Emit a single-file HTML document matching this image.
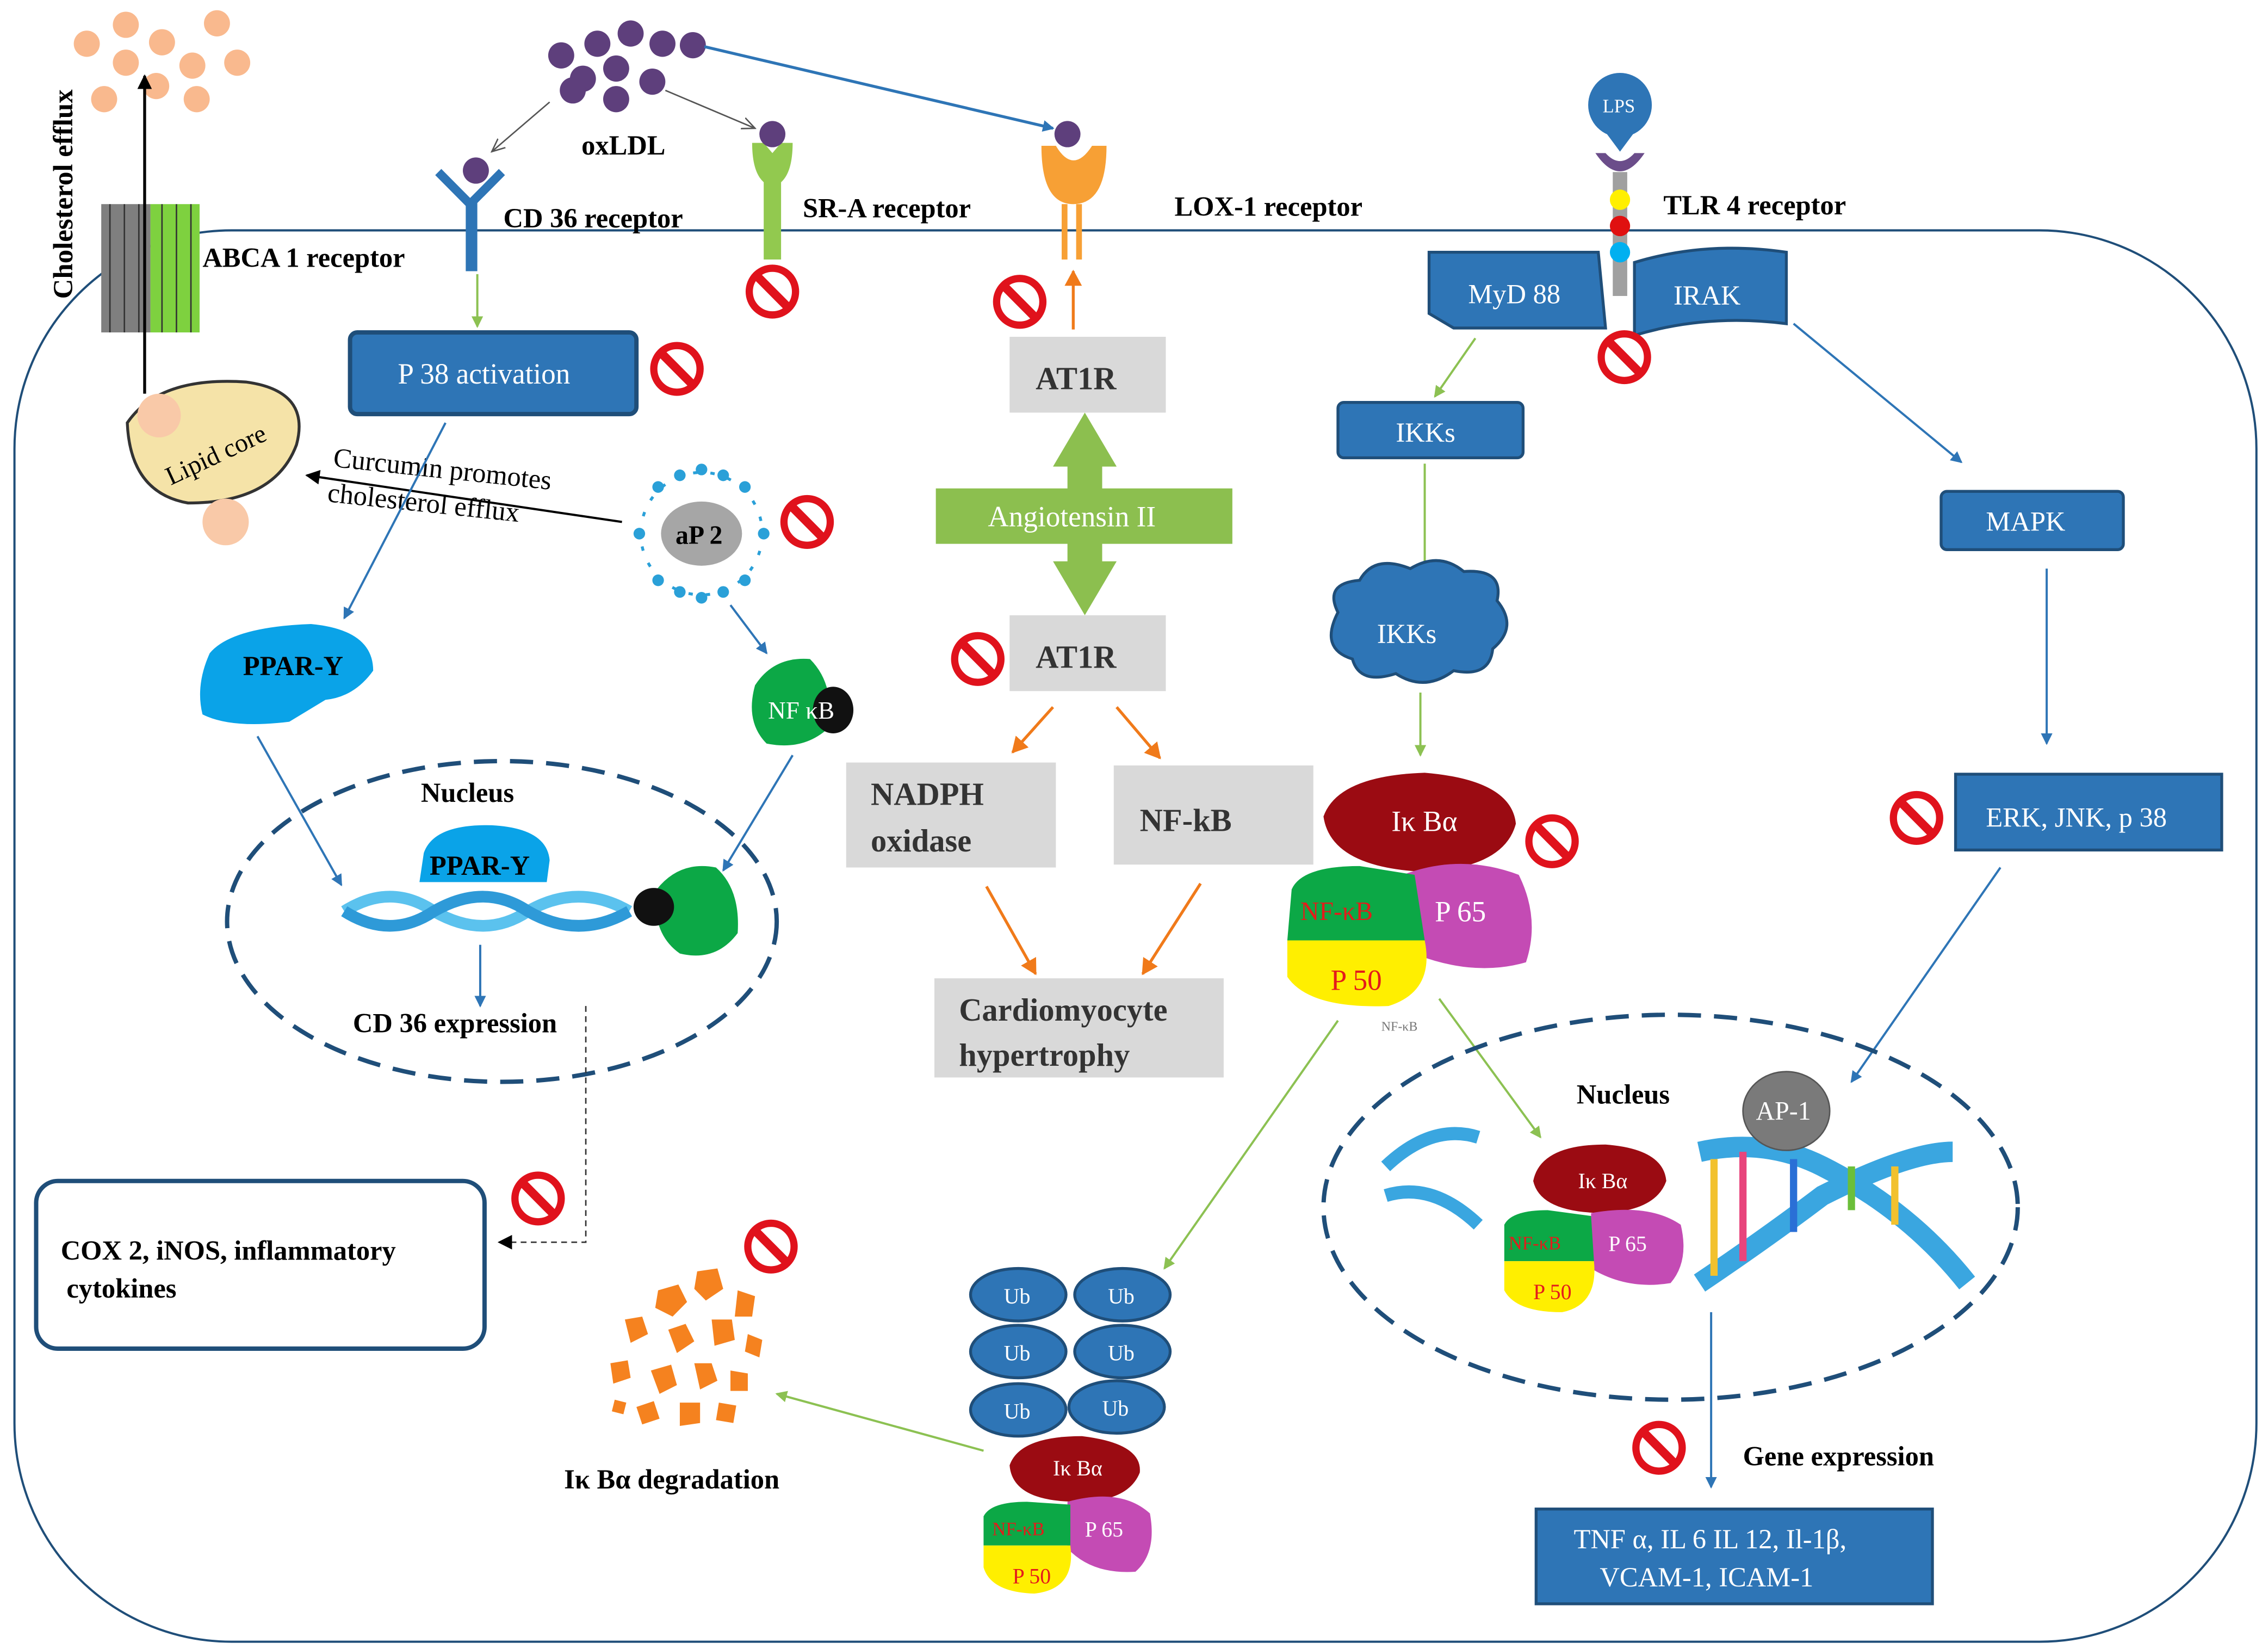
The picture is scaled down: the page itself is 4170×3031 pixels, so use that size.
<!DOCTYPE html>
<html><head><meta charset="utf-8"><style>
html,body{margin:0;padding:0;background:#fff;}
svg{display:block;}
text{font-family:"Liberation Serif",serif;}
</style></head><body>
<svg width="4170" height="3031" viewBox="0 0 1568 1131" preserveAspectRatio="none" xmlns="http://www.w3.org/2000/svg">
<defs>
<marker id="ab" markerWidth="8" markerHeight="8" refX="7" refY="4" orient="auto" markerUnits="userSpaceOnUse"><path d="M0,0 L8,4 L0,8z" fill="#2e75b6"/></marker>
<marker id="ag" markerWidth="8" markerHeight="8" refX="7" refY="4" orient="auto" markerUnits="userSpaceOnUse"><path d="M0,0 L8,4 L0,8z" fill="#8cc152"/></marker>
<marker id="ao" markerWidth="12" markerHeight="12" refX="10" refY="6" orient="auto" markerUnits="userSpaceOnUse"><path d="M0,0 L11,6 L0,12z" fill="#f07a1a"/></marker>
<marker id="ak" markerWidth="10" markerHeight="10" refX="9" refY="5" orient="auto" markerUnits="userSpaceOnUse"><path d="M0,0 L10,5 L0,10z" fill="#000"/></marker>
<marker id="ag2" markerWidth="10" markerHeight="10" refX="9" refY="5" orient="auto" markerUnits="userSpaceOnUse"><path d="M0,1 L9,5 L0,9" fill="none" stroke="#555"/></marker>
<g id="no"><circle r="16" fill="#fff" stroke="#e0121c" stroke-width="5"/><line x1="-11" y1="-11" x2="11" y2="11" stroke="#e0121c" stroke-width="6"/></g>
</defs>
<rect width="1568" height="1131" fill="#fff"/>
<rect x="10" y="158" width="1550" height="968" rx="150" fill="none" stroke="#1f4e79" stroke-width="1.5"/>
<g fill="#f9b98e">
<circle cx="60" cy="30" r="9"/><circle cx="87" cy="17" r="9"/><circle cx="112" cy="29" r="9"/><circle cx="150" cy="16" r="9"/><circle cx="87" cy="43" r="9"/><circle cx="133" cy="45" r="9"/><circle cx="164" cy="43" r="9"/><circle cx="72" cy="68" r="9"/><circle cx="108" cy="59" r="9"/><circle cx="136" cy="68" r="9"/>
</g>
<g fill="#5e3f7c">
<circle cx="388" cy="38" r="9"/><circle cx="413" cy="30" r="9"/><circle cx="436" cy="23" r="9"/><circle cx="458" cy="30" r="9"/><circle cx="479" cy="31" r="9"/><circle cx="403" cy="54" r="9"/><circle cx="426" cy="47" r="9"/><circle cx="451" cy="56" r="9"/><circle cx="396" cy="62" r="9"/><circle cx="426" cy="68" r="9"/>
</g>
<text x="402" y="106" font-size="19" font-weight="bold">oxLDL</text>
<line x1="380" y1="70" x2="340" y2="104" stroke="#555" marker-end="url(#ag2)"/>
<line x1="460" y1="62" x2="522" y2="88" stroke="#555" marker-end="url(#ag2)"/>
<line x1="487" y1="32" x2="728" y2="88" stroke="#2e75b6" stroke-width="2" marker-end="url(#ab)"/>
<rect x="70" y="140" width="34" height="88" fill="#7f7f7f"/>
<rect x="104" y="140" width="34" height="88" fill="#7ed13f"/>
<g stroke="#333" stroke-width="1"><line x1="76" y1="140" x2="76" y2="228"/><line x1="86" y1="140" x2="86" y2="228"/><line x1="96" y1="140" x2="96" y2="228"/><line x1="112" y1="140" x2="112" y2="228"/><line x1="122" y1="140" x2="122" y2="228"/><line x1="132" y1="140" x2="132" y2="228"/></g>
<text x="140" y="183" font-size="19" font-weight="bold">ABCA 1 receptor</text>
<text transform="translate(50,205) rotate(-90)" font-size="19" font-weight="bold">Cholesterol efflux</text>
<line x1="100" y1="270" x2="100" y2="52" stroke="#000" stroke-width="2" marker-end="url(#ak)"/>
<path d="M88,290 Q110,258 170,262 Q215,268 205,305 Q190,345 130,345 Q90,338 88,290z" fill="#f5e3a8" stroke="#333" stroke-width="2"/>
<circle cx="110" cy="285" r="15" fill="#f9c9a8"/><circle cx="156" cy="358" r="16" fill="#f9c9a8"/>
<text transform="translate(118,333) rotate(-25)" font-size="18">Lipid core</text>
<text transform="translate(230,320) rotate(6)" font-size="19">Curcumin promotes</text>
<text transform="translate(226,344) rotate(6)" font-size="19">cholesterol efflux</text>
<line x1="430" y1="358" x2="212" y2="326" stroke="#000" stroke-width="1.5" marker-end="url(#ak)"/>
<path d="M303,118 L325,140 L347,118" fill="none" stroke="#2e75b6" stroke-width="6"/>
<rect x="322" y="138" width="8" height="48" fill="#2e75b6"/>
<circle cx="329" cy="117" r="9" fill="#5e3f7c"/>
<text x="348" y="156" font-size="19" font-weight="bold">CD 36 receptor</text>
<line x1="330" y1="188" x2="330" y2="224" stroke="#8cc152" stroke-width="1.5" marker-end="url(#ag)"/>
<path d="M520,98 Q520,118 528,125 L528,178 L540,178 L540,125 Q548,118 548,98 L540,98 L534,105 L528,98z" fill="#92c94f"/>
<circle cx="534" cy="92" r="9" fill="#5e3f7c"/>
<text x="555" y="149" font-size="19" font-weight="bold">SR-A receptor</text>
<path d="M720,100 Q720,140 742,140 Q765,140 765,100 L755,100 Q742,120 730,100z" fill="#f7a035"/>
<rect x="734" y="140" width="4" height="38" fill="#f7a035"/><rect x="744" y="140" width="4" height="38" fill="#f7a035"/>
<circle cx="738" cy="92" r="9" fill="#5e3f7c"/>
<text x="812" y="148" font-size="19" font-weight="bold">LOX-1 receptor</text>
<line x1="742" y1="226" x2="742" y2="186" stroke="#f07a1a" stroke-width="2" marker-end="url(#ao)"/>
<circle cx="1120" cy="72" r="22" fill="#2e75b6"/><path d="M1108,88 L1120,104 L1132,88z" fill="#2e75b6"/>
<text x="1108" y="77" font-size="13" fill="#fff">LPS</text>
<path d="M1103,105 Q1120,130 1137,105 L1130,105 Q1120,116 1110,105z" fill="#6b4d8a"/>
<rect x="1115" y="118" width="10" height="85" fill="#a0a0a0"/>
<circle cx="1120" cy="137" r="7" fill="#ffef00"/><circle cx="1120" cy="155" r="7" fill="#e01010"/><circle cx="1120" cy="173" r="7" fill="#00b0f0"/>
<text x="1150" y="147" font-size="19" font-weight="bold">TLR 4 receptor</text>
<path d="M988,173 L1105,173 L1110,225 L1005,225 L988,215z" fill="#2e75b6" stroke="#1f4e79" stroke-width="2"/>
<text x="1015" y="208" font-size="19" fill="#fff">MyD 88</text>
<path d="M1130,180 Q1180,165 1235,173 L1235,222 Q1180,215 1130,230z" fill="#2e75b6" stroke="#1f4e79" stroke-width="2"/>
<text x="1157" y="209" font-size="19" fill="#fff">IRAK</text>
<line x1="1020" y1="232" x2="992" y2="272" stroke="#8cc152" stroke-width="1.5" marker-end="url(#ag)"/>
<line x1="1240" y1="222" x2="1356" y2="317" stroke="#2e75b6" stroke-width="1.5" marker-end="url(#ab)"/>
<rect x="925" y="276" width="128" height="38" rx="4" fill="#2e75b6" stroke="#1f4e79" stroke-width="2"/>
<text x="965" y="303" font-size="19" fill="#fff">IKKs</text>
<line x1="985" y1="318" x2="985" y2="394" stroke="#8cc152" stroke-width="1.5" marker-end="url(#ag)"/>
<path d="M925,420 Q915,400 940,398 Q950,380 975,390 Q995,378 1012,392 Q1040,390 1035,412 Q1050,430 1032,445 Q1030,465 1005,460 Q985,475 965,462 Q940,470 935,452 Q912,445 925,420z" fill="#2e75b6" stroke="#1f4e79" stroke-width="2"/>
<text x="952" y="441" font-size="19" fill="#fff">IKKs</text>
<line x1="982" y1="475" x2="982" y2="518" stroke="#8cc152" stroke-width="1.5" marker-end="url(#ag)"/>
<rect x="1342" y="337" width="126" height="40" rx="4" fill="#2e75b6" stroke="#1f4e79" stroke-width="2"/>
<text x="1373" y="364" font-size="19" fill="#fff">MAPK</text>
<line x1="1415" y1="390" x2="1415" y2="510" stroke="#2e75b6" stroke-width="1.5" marker-end="url(#ab)"/>
<rect x="1352" y="531" width="184" height="52" fill="#2e75b6" stroke="#1f4e79" stroke-width="2"/>
<text x="1373" y="567" font-size="19" fill="#fff">ERK, JNK, p 38</text>
<line x1="1383" y1="595" x2="1280" y2="742" stroke="#2e75b6" stroke-width="1.5" marker-end="url(#ab)"/>
<rect x="242" y="228" width="198" height="56" rx="5" fill="#2e75b6" stroke="#1f4e79" stroke-width="3"/>
<text x="275" y="263" font-size="20" fill="#fff">P 38 activation</text>
<line x1="308" y1="290" x2="238" y2="424" stroke="#2e75b6" stroke-width="1.5" marker-end="url(#ab)"/>
<path d="M145,448 Q160,430 215,428 Q258,432 258,460 Q245,478 225,480 L200,495 Q160,500 140,490 Q135,470 145,448z" fill="#0aa3e8"/>
<text x="168" y="463" font-size="19" font-weight="bold">PPAR-Y</text>
<line x1="178" y1="505" x2="236" y2="607" stroke="#2e75b6" stroke-width="1.5" marker-end="url(#ab)"/>
<g stroke="#2aa0d8" stroke-width="2" fill="none">
<circle cx="485" cy="366" r="42" stroke-dasharray="3 9"/>
</g>
<g fill="#2aa0d8"><circle cx="485" cy="322" r="4"/><circle cx="515" cy="334" r="4"/><circle cx="528" cy="366" r="4"/><circle cx="515" cy="398" r="4"/><circle cx="485" cy="410" r="4"/><circle cx="455" cy="398" r="4"/><circle cx="442" cy="366" r="4"/><circle cx="455" cy="334" r="4"/><circle cx="500" cy="326" r="4"/><circle cx="470" cy="326" r="4"/><circle cx="500" cy="406" r="4"/><circle cx="470" cy="406" r="4"/></g>
<ellipse cx="485" cy="366" rx="28" ry="22" fill="#a6a6a6"/>
<text x="467" y="373" font-size="18" font-weight="bold">aP 2</text>
<line x1="505" y1="415" x2="530" y2="448" stroke="#2e75b6" stroke-width="1.5" marker-end="url(#ab)"/>
<path d="M522,470 Q535,450 560,452 Q578,470 572,500 Q555,515 530,510 Q515,495 522,470z" fill="#0ca846"/>
<ellipse cx="576" cy="487" rx="14" ry="16" fill="#111"/>
<text x="531" y="493" font-size="17" fill="#fff">NF κB</text>
<line x1="548" y1="518" x2="500" y2="597" stroke="#2e75b6" stroke-width="1.5" marker-end="url(#ab)"/>
<ellipse cx="347" cy="632" rx="190" ry="110" fill="none" stroke="#1f4e79" stroke-width="3" stroke-dasharray="16 9"/>
<text x="291" y="550" font-size="19" font-weight="bold">Nucleus</text>
<path d="M293,585 Q300,565 340,566 Q378,568 380,590 L378,605 L290,605z" fill="#0aa3e8"/>
<text x="297" y="600" font-size="19" font-weight="bold">PPAR-Y</text>
<path d="M238,625 Q270,605 300,625 Q335,645 365,625 Q400,605 435,625" fill="none" stroke="#5bc2ee" stroke-width="8"/>
<path d="M238,625 Q270,645 300,625 Q335,605 365,625 Q400,645 435,625" fill="none" stroke="#2e9ad8" stroke-width="8"/>
<path d="M454,610 Q470,590 495,595 Q512,610 510,640 Q495,660 470,654 Q450,640 454,610z" fill="#0ca846"/>
<ellipse cx="452" cy="622" rx="14" ry="13" fill="#111"/>
<line x1="332" y1="648" x2="332" y2="690" stroke="#2e75b6" stroke-width="1.5" marker-end="url(#ab)"/>
<text x="244" y="708" font-size="19" font-weight="bold">CD 36 expression</text>
<path d="M405,690 L405,852 L345,852" fill="none" stroke="#333" stroke-dasharray="4 3" marker-end="url(#ak)"/>
<rect x="25" y="810" width="310" height="115" rx="15" fill="#fff" stroke="#1f4e79" stroke-width="3"/>
<text x="42" y="864" font-size="19" font-weight="bold">COX 2, iNOS, inflammatory</text>
<text x="46" y="890" font-size="19" font-weight="bold">cytokines</text>
<rect x="698" y="231" width="108" height="52" fill="#d9d9d9"/>
<text x="716" y="267" font-size="22" font-weight="bold" fill="#333">AT1R</text>
<rect x="698" y="422" width="108" height="52" fill="#d9d9d9"/>
<text x="716" y="458" font-size="22" font-weight="bold" fill="#333">AT1R</text>
<path d="M750,283 L772,320 L762,320 L762,335 L852,335 L852,373 L762,373 L762,385 L772,385 L750,422 L728,385 L738,385 L738,373 L647,373 L647,335 L738,335 L738,320 L728,320z" fill="#8cbf4f"/>
<text x="683" y="361" font-size="20" fill="#fff">Angiotensin II</text>
<line x1="728" y1="485" x2="700" y2="516" stroke="#f07a1a" stroke-width="2" marker-end="url(#ao)"/>
<line x1="772" y1="485" x2="802" y2="520" stroke="#f07a1a" stroke-width="2" marker-end="url(#ao)"/>
<rect x="585" y="523" width="145" height="72" fill="#d9d9d9"/>
<text x="602" y="552" font-size="22" font-weight="bold" fill="#333">NADPH</text>
<text x="602" y="584" font-size="22" font-weight="bold" fill="#333">oxidase</text>
<rect x="770" y="525" width="138" height="68" fill="#d9d9d9"/>
<text x="788" y="570" font-size="22" font-weight="bold" fill="#333">NF-kB</text>
<line x1="682" y1="608" x2="716" y2="668" stroke="#f07a1a" stroke-width="2" marker-end="url(#ao)"/>
<line x1="830" y1="606" x2="790" y2="668" stroke="#f07a1a" stroke-width="2" marker-end="url(#ao)"/>
<rect x="646" y="671" width="200" height="68" fill="#d9d9d9"/>
<text x="663" y="700" font-size="22" font-weight="bold" fill="#333">Cardiomyocyte</text>
<text x="663" y="731" font-size="22" font-weight="bold" fill="#333">hypertrophy</text>
<path d="M915,560 Q925,532 985,530 Q1045,535 1048,565 Q1040,595 985,598 Q920,595 915,560z" fill="#9b0b12"/>
<text x="962" y="570" font-size="20" fill="#fff">Iκ Bα</text>
<path d="M970,600 Q1010,585 1050,600 Q1065,630 1055,660 Q1020,670 980,655z" fill="#c44bb4"/>
<text x="992" y="632" font-size="20" fill="#fff">P 65</text>
<path d="M893,610 Q900,594 940,594 L978,600 L985,645 L890,645z" fill="#0ca846"/>
<text x="899" y="631" font-size="18" fill="#e41b1b">NF-κB</text>
<path d="M890,645 L985,645 Q992,680 960,690 Q905,692 890,670z" fill="#ffef00"/>
<text x="920" y="679" font-size="20" fill="#e41b1b">P 50</text>
<text x="955" y="707" font-size="9" fill="#777">NF-κB</text>
<line x1="925" y1="700" x2="805" y2="870" stroke="#8cc152" stroke-width="1.5" marker-end="url(#ag)"/>
<line x1="995" y1="685" x2="1065" y2="780" stroke="#8cc152" stroke-width="1.5" marker-end="url(#ag)"/>
<ellipse cx="1155" cy="828" rx="240" ry="132" fill="none" stroke="#1f4e79" stroke-width="3" stroke-dasharray="16 9"/>
<text x="1090" y="757" font-size="19" font-weight="bold">Nucleus</text>
<path d="M958,800 Q990,770 1022,780 M958,820 Q990,810 1022,840" fill="none" stroke="#3aa6e0" stroke-width="9"/>
<path d="M1175,790 Q1220,780 1260,800 Q1320,830 1360,880 M1175,880 Q1220,850 1260,820 Q1320,790 1350,790" fill="none" stroke="#3aa6e0" stroke-width="14"/>
<g stroke-width="5"><line x1="1185" y1="795" x2="1185" y2="875" stroke="#f2c12e"/><line x1="1205" y1="790" x2="1205" y2="865" stroke="#e8457c"/><line x1="1240" y1="795" x2="1240" y2="845" stroke="#2a6fd6"/><line x1="1280" y1="800" x2="1280" y2="830" stroke="#6bbf3a"/><line x1="1310" y1="800" x2="1310" y2="840" stroke="#f2c12e"/></g>
<ellipse cx="1235" cy="762" rx="30" ry="27" fill="#7a7a7a" stroke="#555"/>
<text x="1214" y="768" font-size="18" fill="#fff">AP-1</text>
<path d="M1060,810 Q1065,785 1110,785 Q1150,788 1152,810 Q1145,830 1110,832 Q1065,832 1060,810z" fill="#9b0b12"/>
<text x="1091" y="815" font-size="15" fill="#fff">Iκ Bα</text>
<path d="M1100,832 Q1140,825 1162,840 Q1168,865 1155,880 Q1125,885 1100,870z" fill="#c44bb4"/>
<text x="1112" y="858" font-size="15" fill="#fff">P 65</text>
<path d="M1040,840 Q1045,830 1070,830 L1100,834 L1102,865 L1040,865z" fill="#0ca846"/>
<text x="1043" y="857" font-size="13" fill="#e41b1b">NF-κB</text>
<path d="M1040,865 L1102,865 Q1105,895 1080,900 Q1048,900 1040,885z" fill="#ffef00"/>
<text x="1060" y="891" font-size="15" fill="#e41b1b">P 50</text>
<line x1="1183" y1="900" x2="1183" y2="1020" stroke="#2e75b6" stroke-width="1.5" marker-end="url(#ab)"/>
<text x="1205" y="1005" font-size="19" font-weight="bold">Gene expression</text>
<rect x="1062" y="1035" width="274" height="65" fill="#2e75b6" stroke="#1f4e79" stroke-width="2"/>
<text x="1088" y="1062" font-size="19" fill="#fff">TNF α, IL 6 IL 12, Il-1β,</text>
<text x="1106" y="1088" font-size="19" fill="#fff">VCAM-1, ICAM-1</text>
<g fill="#2e75b6" stroke="#1f4e79" stroke-width="2">
<ellipse cx="704" cy="888" rx="33" ry="18"/><ellipse cx="776" cy="888" rx="33" ry="18"/>
<ellipse cx="704" cy="927" rx="33" ry="18"/><ellipse cx="776" cy="927" rx="33" ry="18"/>
<ellipse cx="704" cy="967" rx="33" ry="18"/><ellipse cx="772" cy="965" rx="33" ry="18"/>
</g>
<g font-size="15" fill="#fff"><text x="694" y="894">Ub</text><text x="766" y="894">Ub</text><text x="694" y="933">Ub</text><text x="766" y="933">Ub</text><text x="694" y="973">Ub</text><text x="762" y="971">Ub</text></g>
<path d="M698,1005 Q705,985 748,985 Q790,990 788,1010 Q780,1030 745,1030 Q700,1030 698,1005z" fill="#9b0b12"/>
<text x="728" y="1012" font-size="15" fill="#fff">Iκ Bα</text>
<path d="M738,1030 Q775,1020 795,1038 Q800,1065 785,1078 Q755,1080 738,1062z" fill="#c44bb4"/>
<text x="750" y="1054" font-size="15" fill="#fff">P 65</text>
<path d="M680,1040 Q685,1030 710,1030 L740,1032 L740,1060 L680,1060z" fill="#0ca846"/>
<text x="686" y="1053" font-size="13" fill="#e41b1b">NF-κB</text>
<path d="M680,1060 L740,1060 Q744,1090 715,1093 Q685,1092 680,1075z" fill="#ffef00"/>
<text x="700" y="1086" font-size="15" fill="#e41b1b">P 50</text>
<line x1="680" y1="995" x2="537" y2="956" stroke="#8cc152" stroke-width="1.5" marker-end="url(#ag)"/>
<g fill="#f5821f">
<path d="M455,885 l14,-4 l6,12 l-10,10 l-12,-6z"/><path d="M482,872 l14,-2 l4,14 l-12,8 l-8,-8z"/><path d="M510,885 l12,4 l-2,14 l-12,0z"/>
<path d="M432,905 l12,-2 l4,12 l-12,6z"/><path d="M462,912 l12,-4 l6,12 l-12,8z"/><path d="M492,905 l14,0 l2,14 l-14,4z"/><path d="M517,915 l10,4 l-2,12 l-10,-4z"/>
<path d="M422,935 l12,-2 l2,12 l-12,4z"/><path d="M450,940 l14,-4 l4,14 l-12,6z"/><path d="M480,935 l12,0 l4,12 l-12,6z"/><path d="M505,940 l12,2 l0,12 l-12,0z"/>
<path d="M440,965 l12,-4 l4,12 l-12,4z"/><path d="M470,962 l14,0 l0,14 l-14,2z"/><path d="M497,962 l12,2 l-2,12 l-12,-2z"/><path d="M425,960 l8,2 l-2,8 l-8,-2z"/>
</g>
<text x="390" y="1021" font-size="19" font-weight="bold">Iκ Bα degradation</text>
<use href="#no" x="534" y="200"/><use href="#no" x="468" y="253"/><use href="#no" x="558" y="358"/><use href="#no" x="705" y="207"/>
<use href="#no" x="676" y="452"/><use href="#no" x="1123" y="245"/><use href="#no" x="1073" y="577"/><use href="#no" x="1325" y="561"/>
<use href="#no" x="372" y="822"/><use href="#no" x="533" y="855"/><use href="#no" x="1147" y="993"/>
</svg>
</body></html>
